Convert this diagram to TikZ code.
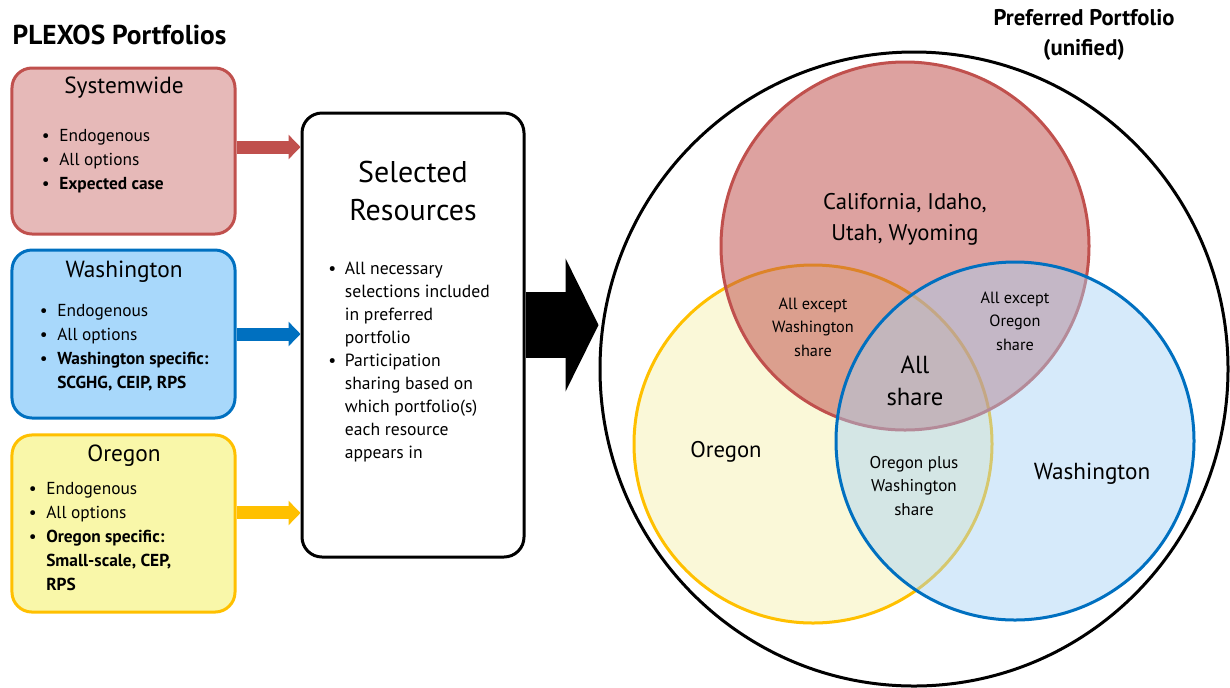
\documentclass[tikz,border=0pt]{standalone}
\usepackage{fontspec}
\setmainfont{PT Sans}
\usetikzlibrary{arrows.meta,shapes.geometric}

\definecolor{sysred}{HTML}{C0504D}
\definecolor{sysfill}{HTML}{E6B9B8}
\definecolor{wablue}{HTML}{0070C0}
\definecolor{wafill}{HTML}{A8D8FB}
\definecolor{oregold}{HTML}{FFC000}
\definecolor{orefill}{HTML}{F9F7A9}
\definecolor{venyel}{HTML}{FAF8D8}
\definecolor{venblue}{HTML}{A6D2F5}

\newcommand{\bl}[1][13pt]{\makebox[#1][l]{\textbullet}}
\newcommand{\nb}[1][13pt]{\makebox[#1]{}}

\begin{document}
\begin{tikzpicture}[x=0.75pt,y=-0.75pt,
	box/.style={draw,rounded corners=15pt,line width=2.25pt,inner sep=0pt,minimum width=167.3pt},
	ttl/.style={font=\fontsize{17.5}{20}\selectfont},
	lst/.style={anchor=north west,inner sep=0pt,align=left,font=\fontsize{13}{18}\selectfont},
	flow/.style={line width=9.75pt,-{Triangle[length=9pt,width=18pt]}},
	ring/.style={circle,line width=2.25pt,inner sep=0pt},
	lbl/.style={align=center,inner sep=0pt}]
		\useasboundingbox (0,0) rectangle (1230,687);

		\node[anchor=west,font=\bfseries\fontsize{20.5}{24}\selectfont] (hdr) at (8,35) {PLEXOS Portfolios};

		\node[box,draw=sysred,fill=sysfill,minimum height=124.5pt] (sys) at (123.5,151) {};
		\node[ttl] (systl) at (124,88) {Systemwide};
		\node[lst] (syslst) at (41.7,129) {\bl Endogenous\\ \bl All options\\ \bl\textbf{Expected case}};

		\node[box,draw=wablue,fill=wafill,minimum height=126pt] (wa) at (123.5,334) {};
		\node[ttl] (watl) at (124,272) {Washington};
		\node[lst] (walst) at (39.7,304) {\bl Endogenous\\ \bl All options\\ \bl\textbf{Washington specific:}\\ \nb\textbf{SCGHG, CEIP, RPS}};

		\node[box,draw=oregold,fill=orefill,minimum height=132.8pt] (ore) at (123.5,523.5) {};
		\node[ttl] (oretl) at (124,456) {Oregon};
		\node[lst] (orelst) at (28.7,482) {\bl Endogenous\\ \bl All options\\ \bl\textbf{Oregon specific:}\\ \nb\textbf{Small-scale, CEP,}\\ \nb\textbf{RPS}};

		\node[box,fill=white,minimum width=166.5pt,minimum height=333pt] (sel) at (413,335) {};
		\node[lbl,font=\fontsize{22.5}{28.5}\selectfont] (seltl) at (413,191) {Selected\\Resources};
		\node[lst,font=\fontsize{13.2}{17.25}\selectfont] (sellst) at (328,262) {\bl[12.5pt]All necessary\\ \nb[12.5pt]selections included\\ \nb[12.5pt]in preferred\\ \nb[12.5pt]portfolio\\ \bl[12.5pt]Participation\\ \nb[12.5pt]sharing based on\\ \nb[12.5pt]which portfolio(s)\\ \nb[12.5pt]each resource\\ \nb[12.5pt]appears in};

		\draw[flow,sysred] ([yshift=3pt]sys.east) -- ([yshift=3pt]sys.east -| sel.west);
		\draw[flow,wablue] (wa.east) -- (wa.east -| sel.west);
		\draw[flow,oregold] ([yshift=7.9pt]ore.east) -- ([yshift=7.9pt]ore.east -| sel.west);

		\node[ellipse,draw,fill=white,line width=2.25pt,inner sep=0pt,minimum width=471pt,minimum height=475.5pt] (pp) at (914,369) {};
		\node[lbl,font=\bfseries\fontsize{17}{22.5}\selectfont] (pptl) at (1084,35) {Preferred Portfolio\\(unified)};
		\draw[line width=49.5pt,-{Triangle[length=24.75pt,width=99pt]}] ([yshift=7.5pt]sel.east) -- ([yshift=7.5pt]sel.east -| pp.west);

		\node[ring,draw=oregold,fill=venyel,minimum size=268.5pt] (orc) at (813,444) {};
		\node[ring,draw=sysred,fill=sysred,fill opacity=0.53,minimum size=276pt] (rrc) at (905,246) {};
		\node[ring,draw=wablue,fill=venblue,fill opacity=0.45,minimum size=268.5pt] (wrc) at (1015,441) {};

		\node[lbl,font=\fontsize{17}{23}\selectfont] (cal) at (905,219) {California, Idaho,\\Utah, Wyoming};
		\node[lbl,font=\fontsize{12.2}{17.6}\selectfont] (awx) at (813,327) {All except\\Washington\\share};
		\node[lbl,font=\fontsize{12.2}{17.6}\selectfont] (aox) at (1015,321) {All except\\Oregon\\share};
		\node[lbl,font=\fontsize{18.5}{24}\selectfont] (all) at (915,381) {All\\share};
		\node[lbl,font=\fontsize{17}{20}\selectfont] (orn) at (726,452) {Oregon};
		\node[lbl,font=\fontsize{17.4}{20}\selectfont] (wan) at (1092,474) {Washington};
		\node[lbl,font=\fontsize{12.8}{17.6}\selectfont] (opw) at (914,486) {Oregon plus\\Washington\\share};
\end{tikzpicture}
\end{document}
